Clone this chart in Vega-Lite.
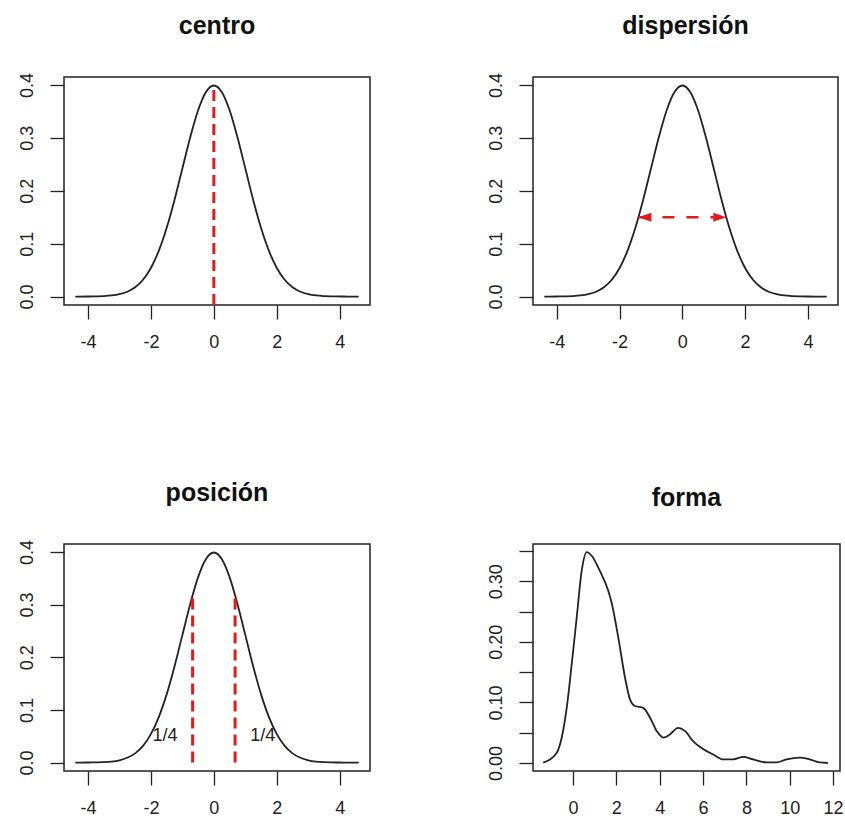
{
  "$schema": "https://vega.github.io/schema/vega-lite/v6.json",
  "padding": {"left": 17, "top": 13, "right": 5, "bottom": 0},
  "background": "white",
  "datasets": {
    "norm": [
      {"x": -4.4, "d": 0.0000}, {"x": -4.25, "d": 0.0000}, {"x": -4.0, "d": 0.0001}, {"x": -3.75, "d": 0.0004},
      {"x": -3.5, "d": 0.0009}, {"x": -3.25, "d": 0.0020}, {"x": -3.0, "d": 0.0044}, {"x": -2.75, "d": 0.0091},
      {"x": -2.5, "d": 0.0175}, {"x": -2.25, "d": 0.0317}, {"x": -2.0, "d": 0.0540}, {"x": -1.75, "d": 0.0863},
      {"x": -1.5, "d": 0.1295}, {"x": -1.25, "d": 0.1826}, {"x": -1.0, "d": 0.2420}, {"x": -0.75, "d": 0.3011},
      {"x": -0.5, "d": 0.3521}, {"x": -0.25, "d": 0.3867}, {"x": 0.0, "d": 0.3989}, {"x": 0.25, "d": 0.3867},
      {"x": 0.5, "d": 0.3521}, {"x": 0.75, "d": 0.3011}, {"x": 1.0, "d": 0.2420}, {"x": 1.25, "d": 0.1826},
      {"x": 1.5, "d": 0.1295}, {"x": 1.75, "d": 0.0863}, {"x": 2.0, "d": 0.0540}, {"x": 2.25, "d": 0.0317},
      {"x": 2.5, "d": 0.0175}, {"x": 2.75, "d": 0.0091}, {"x": 3.0, "d": 0.0044}, {"x": 3.25, "d": 0.0020},
      {"x": 3.5, "d": 0.0009}, {"x": 3.75, "d": 0.0004}, {"x": 4.0, "d": 0.0001}, {"x": 4.25, "d": 0.0000},
      {"x": 4.5, "d": 0.0000}, {"x": 4.6, "d": 0.0000}
    ],
    "forma": [
      {"x": -1.37, "d": 0.0005}, {"x": -0.75, "d": 0.017}, {"x": -0.52, "d": 0.042}, {"x": -0.29, "d": 0.091},
      {"x": -0.06, "d": 0.163}, {"x": 0.17, "d": 0.240}, {"x": 0.40, "d": 0.317}, {"x": 0.63, "d": 0.348},
      {"x": 0.86, "d": 0.342}, {"x": 1.24, "d": 0.317}, {"x": 1.63, "d": 0.284}, {"x": 1.78, "d": 0.265},
      {"x": 2.09, "d": 0.207}, {"x": 2.40, "d": 0.141}, {"x": 2.63, "d": 0.105}, {"x": 2.86, "d": 0.094},
      {"x": 3.24, "d": 0.091}, {"x": 3.55, "d": 0.075}, {"x": 3.86, "d": 0.053}, {"x": 4.16, "d": 0.042},
      {"x": 4.47, "d": 0.047}, {"x": 4.85, "d": 0.058}, {"x": 5.16, "d": 0.053}, {"x": 5.54, "d": 0.036},
      {"x": 6.0, "d": 0.023}, {"x": 6.47, "d": 0.014}, {"x": 6.93, "d": 0.006}, {"x": 7.39, "d": 0.006},
      {"x": 7.85, "d": 0.010}, {"x": 8.31, "d": 0.006}, {"x": 8.93, "d": 0.001}, {"x": 9.39, "d": 0.001},
      {"x": 9.85, "d": 0.006}, {"x": 10.46, "d": 0.009}, {"x": 10.92, "d": 0.006}, {"x": 11.38, "d": 0.001},
      {"x": 11.76, "d": 0.000}
    ]
  },
  "columns": 2,
  "spacing": {"row": 239, "column": 163},
  "bounds": "flush",
  "concat": [
    {
      "title": "centro",
      "width": 306, "height": 228,
      "layer": [
        {
          "data": {"name": "norm"},
          "mark": {"type": "line", "color": "#222", "strokeWidth": 1.8, "interpolate": "monotone"},
          "encoding": {
            "x": {"field": "x", "type": "quantitative", "title": null, "scale": {"domain": [-4.76, 4.96], "nice": false, "zero": false}, "axis": {"values": [-4, -2, 0, 2, 4], "labelExpr": "'' + datum.value"}},
            "y": {"field": "d", "type": "quantitative", "title": null, "scale": {"domain": [-0.016, 0.415], "nice": false, "zero": false}, "axis": {"values": [0, 0.1, 0.2, 0.3, 0.4], "format": ".1f"}}
          }
        },
        {
          "data": {"values": [{"x": 0, "y": -0.016, "y2": 0.3989}]},
          "mark": {"type": "rule", "color": "#e31a1c", "strokeWidth": 3, "strokeDash": [11, 6]},
          "encoding": {
            "x": {"field": "x", "type": "quantitative"},
            "y": {"field": "y", "type": "quantitative"},
            "y2": {"field": "y2"}
          }
        }
      ]
    },
    {
      "title": "dispersión",
      "width": 305, "height": 228,
      "layer": [
        {
          "data": {"name": "norm"},
          "mark": {"type": "line", "color": "#222", "strokeWidth": 1.8, "interpolate": "monotone"},
          "encoding": {
            "x": {"field": "x", "type": "quantitative", "title": null, "scale": {"domain": [-4.76, 4.96], "nice": false, "zero": false}, "axis": {"values": [-4, -2, 0, 2, 4], "labelExpr": "'' + datum.value"}},
            "y": {"field": "d", "type": "quantitative", "title": null, "scale": {"domain": [-0.016, 0.415], "nice": false, "zero": false}, "axis": {"values": [0, 0.1, 0.2, 0.3, 0.4], "format": ".1f"}}
          }
        },
        {
          "data": {"values": [{"x": -1.4, "x2": 1.4, "y": 0.15}]},
          "mark": {"type": "rule", "color": "#e31a1c", "strokeWidth": 2.5, "strokeDash": [12, 12]},
          "encoding": {
            "x": {"field": "x", "type": "quantitative"},
            "x2": {"field": "x2"},
            "y": {"field": "y", "type": "quantitative"}
          }
        },
        {
          "data": {"values": [{"x": -1.4, "y": 0.15, "s": "M0,0L1,-0.35L1,0.35Z"}, {"x": 1.4, "y": 0.15, "s": "M0,0L-1,-0.35L-1,0.35Z"}]},
          "mark": {"type": "point", "filled": true, "color": "#e31a1c", "size": 676, "opacity": 1},
          "encoding": {
            "x": {"field": "x", "type": "quantitative"},
            "y": {"field": "y", "type": "quantitative"},
            "shape": {"field": "s", "type": "nominal", "scale": null}
          }
        }
      ]
    },
    {
      "title": "posición",
      "width": 306, "height": 227,
      "layer": [
        {
          "data": {"name": "norm"},
          "mark": {"type": "line", "color": "#222", "strokeWidth": 1.8, "interpolate": "monotone"},
          "encoding": {
            "x": {"field": "x", "type": "quantitative", "title": null, "scale": {"domain": [-4.76, 4.96], "nice": false, "zero": false}, "axis": {"values": [-4, -2, 0, 2, 4], "labelExpr": "'' + datum.value"}},
            "y": {"field": "d", "type": "quantitative", "title": null, "scale": {"domain": [-0.016, 0.415], "nice": false, "zero": false}, "axis": {"values": [0, 0.1, 0.2, 0.3, 0.4], "format": ".1f"}}
          }
        },
        {
          "data": {"values": [{"x": -0.674, "y": 0, "y2": 0.318}, {"x": 0.674, "y": 0, "y2": 0.318}]},
          "mark": {"type": "rule", "color": "#e31a1c", "strokeWidth": 3, "strokeDash": [11, 6]},
          "encoding": {
            "x": {"field": "x", "type": "quantitative"},
            "y": {"field": "y", "type": "quantitative"},
            "y2": {"field": "y2"}
          }
        },
        {
          "data": {"values": [{"x": -1.55, "y": 0.05, "t": "1/4"}, {"x": 1.55, "y": 0.05, "t": "1/4"}]},
          "mark": {"type": "text", "font": "Liberation Sans", "fontSize": 18, "color": "#222"},
          "encoding": {
            "x": {"field": "x", "type": "quantitative"},
            "y": {"field": "y", "type": "quantitative"},
            "text": {"field": "t"}
          }
        }
      ]
    },
    {
      "title": "forma",
      "width": 307, "height": 227,
      "layer": [
        {
          "data": {"name": "forma"},
          "mark": {"type": "line", "color": "#222", "strokeWidth": 1.8, "interpolate": "monotone"},
          "encoding": {
            "x": {"field": "x", "type": "quantitative", "title": null, "scale": {"domain": [-1.846, 12.32], "nice": false, "zero": false}, "axis": {"values": [0, 2, 4, 6, 8, 10, 12], "labelExpr": "'' + datum.value"}},
            "y": {"field": "d", "type": "quantitative", "title": null, "scale": {"domain": [-0.0132, 0.3614], "nice": false, "zero": false}, "axis": {"values": [0, 0.05, 0.1, 0.15, 0.2, 0.25, 0.3, 0.35], "labelExpr": "round(datum.value * 20) % 2 == 0 ? format(datum.value, '.2f') : ''"}}
          }
        }
      ]
    }
  ],
  "config": {
    "view": {"stroke": "#222", "strokeWidth": 1.5},
    "axis": {"domain": false, "grid": false, "ticks": true, "tickColor": "#222", "tickSize": 14, "tickWidth": 1.3, "labelFont": "Liberation Sans", "labelFontSize": 18, "labelColor": "#222", "labelPadding": 14, "labelOverlap": false, "labelFlush": false},
    "axisX": {"labelPadding": 14},
    "axisY": {"labelAngle": 270},
    "title": {"font": "Liberation Sans", "fontSize": 25, "fontWeight": "bold", "color": "#111", "offset": 33, "frame": "group", "anchor": "middle"}
  }
}
